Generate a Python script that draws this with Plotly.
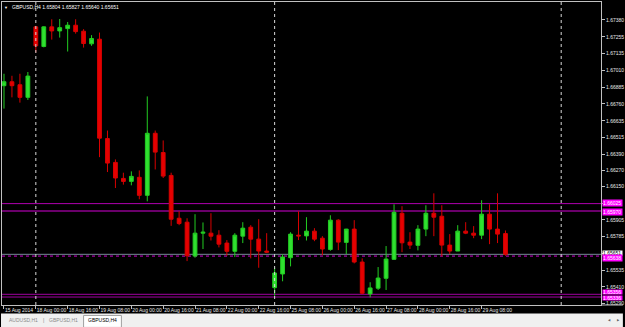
import plotly.graph_objects as go

# ---------------- data ----------------
symbol = "GBPUSD"
timeframe = "H4"

opens = [1.66895, 1.66924, 1.66902, 1.66809, 1.67329, 1.67184, 1.67329, 1.67299, 1.67316, 1.67341,
         1.67297, 1.67204, 1.67238, 1.66505, 1.66329, 1.66211, 1.66189, 1.66219, 1.66086, 1.66544,
         1.66402, 1.66233, 1.65917, 1.65888, 1.65638, 1.65807, 1.65807, 1.65792, 1.65734, 1.65673,
         1.65785, 1.65851, 1.65763, 1.65675, 1.65405, 1.65506, 1.65626, 1.65792, 1.65787, 1.65822,
         1.65770, 1.65687, 1.65903, 1.65739, 1.65837, 1.65594, 1.65359, 1.65401, 1.65474, 1.65614,
         1.65954, 1.65741, 1.65717, 1.65837, 1.65954, 1.65932, 1.65719, 1.65675, 1.65822, 1.65807,
         1.65792, 1.65947, 1.65837, 1.65804]
highs = [1.66983, 1.66968, 1.66983, 1.66996, 1.67336, 1.67333, 1.67385, 1.67387, 1.67365, 1.67385,
         1.67312, 1.67268, 1.67287, 1.66564, 1.66351, 1.66253, 1.66263, 1.66270, 1.66816, 1.66564,
         1.66491, 1.66253, 1.65969, 1.65917, 1.65947, 1.65886, 1.65954, 1.65829, 1.65756, 1.65807,
         1.65888, 1.65866, 1.65910, 1.65807, 1.65552, 1.65651, 1.65814, 1.65969, 1.65925, 1.65844,
         1.65785, 1.65939, 1.65910, 1.65839, 1.65903, 1.65621, 1.65445, 1.65557, 1.65712, 1.66020,
         1.66006, 1.65814, 1.65866, 1.66013, 1.66101, 1.66013, 1.65800, 1.65866, 1.65888, 1.65859,
         1.66050, 1.66020, 1.66101, 1.65827]
lows = [1.66726, 1.66809, 1.66770, 1.66790, 1.67140, 1.67178, 1.67235, 1.67250, 1.67147, 1.67279,
        1.67176, 1.67189, 1.66368, 1.66258, 1.66140, 1.66165, 1.66160, 1.66057, 1.66042, 1.66277,
        1.66214, 1.65861, 1.65866, 1.65601, 1.65626, 1.65690, 1.65753, 1.65702, 1.65640, 1.65631,
        1.65734, 1.65621, 1.65552, 1.65660, 1.65346, 1.65452, 1.65562, 1.65756, 1.65753, 1.65748,
        1.65645, 1.65677, 1.65682, 1.65653, 1.65584, 1.65357, 1.65334, 1.65388, 1.65388, 1.65609,
        1.65667, 1.65690, 1.65680, 1.65785, 1.65785, 1.65636, 1.65653, 1.65675, 1.65800, 1.65770,
        1.65763, 1.65726, 1.65734, 1.65640]
closes = [1.66924, 1.66895, 1.66809, 1.66966, 1.67189, 1.67329, 1.67299, 1.67323, 1.67341, 1.67294,
          1.67206, 1.67243, 1.66508, 1.66324, 1.66214, 1.66189, 1.66226, 1.66086, 1.66544, 1.66405,
          1.66228, 1.65910, 1.65878, 1.65640, 1.65807, 1.65814, 1.65785, 1.65726, 1.65673, 1.65792,
          1.65844, 1.65763, 1.65675, 1.65667, 1.65513, 1.65631, 1.65800, 1.65787, 1.65822, 1.65763,
          1.65690, 1.65903, 1.65741, 1.65837, 1.65594, 1.65364, 1.65403, 1.65476, 1.65616, 1.65961,
          1.65736, 1.65719, 1.65837, 1.65954, 1.65925, 1.65719, 1.65675, 1.65822, 1.65807, 1.65792,
          1.65947, 1.65837, 1.65800, 1.65651]

x_tick_labels = ["15 Aug 2014", "18 Aug 00:00", "18 Aug 16:00", "19 Aug 08:00", "20 Aug 00:00",
                 "20 Aug 16:00", "21 Aug 08:00", "22 Aug 00:00", "22 Aug 16:00", "25 Aug 08:00",
                 "26 Aug 00:00", "26 Aug 16:00", "27 Aug 08:00", "28 Aug 00:00", "28 Aug 16:00",
                 "29 Aug 08:00"]
bars_per_label = 4

y_tick_values = [1.67380, 1.67255, 1.67135, 1.67010, 1.66885, 1.66760, 1.66635, 1.66515, 1.66390,
                 1.66270, 1.66150, 1.66025, 1.65905, 1.65785, 1.65660, 1.65535, 1.65410, 1.65290]

solid_levels = [1.66025, 1.65970, 1.65356, 1.65336]
dotted_level = 1.65638
separator_bars = [4, 34, 70]
tab_names = ["AUDUSD,H1", "GBPUSD,H1", "GBPUSD,H4"]

# ---------------- geometry helpers ----------------
W, H = 625, 327
ML, MR, MT, MB = 1, 22, 1, 22
PW, PH = W - ML - MR, H - MT - MB


def pxx(X):
    return (X - ML) / PW


def pxy(Y):
    return (H - MB - Y) / PH


FONT = "Liberation Sans, Arial, sans-serif"
bars = list(range(len(opens)))
bid = closes[-1]
box_levels = solid_levels + [dotted_level, bid]

# tick labels hidden behind the coloured price boxes (as in the terminal)
y_tick_text = []
for v in y_tick_values:
    covered = any(abs(v - b) < 0.00035 for b in box_levels)
    y_tick_text.append("" if covered else f"{v:.5f}")

fig = go.Figure()
fig.add_trace(go.Candlestick(
    x=bars, open=opens, high=highs, low=lows, close=closes,
    increasing=dict(line=dict(color="#22cc22", width=1), fillcolor="#30e030"),
    decreasing=dict(line=dict(color="#d80000", width=1), fillcolor="#e60000"),
    whiskerwidth=0, hoverinfo="skip", showlegend=False,
))

shapes = []
level_colors = ["#b000b0", "#6a006a", "#a000a0", "#a000a0"]
level_widths = [1, 2, 1, 1]
for lv, c, w in zip(solid_levels, level_colors, level_widths):
    shapes.append(dict(type="line", xref="paper", x0=0, x1=1, yref="y", y0=lv, y1=lv,
                       line=dict(color=c, width=w), layer="below"))
shapes.append(dict(type="line", xref="paper", x0=0, x1=1, yref="y", y0=bid, y1=bid,
                   line=dict(color="#778899", width=1), layer="below"))
shapes.append(dict(type="line", xref="paper", x0=0, x1=1, yref="y", y0=dotted_level, y1=dotted_level,
                   line=dict(color="#d000d0", width=1, dash="dot"), layer="below"))
for sb in separator_bars:
    shapes.append(dict(type="line", xref="x", x0=sb, x1=sb, yref="paper", y0=0, y1=1,
                       line=dict(color="#d8d8d8", width=1, dash="dot"), layer="above"))
# bottom frame line continuing under price column
shapes.append(dict(type="line", xref="paper", x0=1, x1=pxx(W), yref="paper", y0=0, y1=0,
                   line=dict(color="#c0c0c0", width=1)))
# tab bar
shapes.append(dict(type="rect", xref="paper", x0=pxx(0), x1=pxx(W), yref="paper",
                   y0=pxy(327), y1=pxy(313.5), fillcolor="#f0f0f0", line=dict(width=0)))
shapes.append(dict(type="rect", xref="paper", x0=pxx(83), x1=pxx(121), yref="paper",
                   y0=pxy(327.5), y1=pxy(315.5), fillcolor="#ffffff",
                   line=dict(color="#a0a0a0", width=1)))

ann = []
# title
ann.append(dict(text="▼", xref="paper", yref="paper", x=pxx(5), y=pxy(6.5), showarrow=False,
                font=dict(family=FONT, size=4, color="#ffffff"), xanchor="center", yanchor="middle"))
title = f"{symbol},{timeframe} {opens[-1]:.5f} {highs[-1]:.5f} {lows[-1]:.5f} {closes[-1]:.5f}"
ann.append(dict(text=title, xref="paper", yref="paper", x=pxx(9.5), y=pxy(6.5), showarrow=False,
                font=dict(family=FONT, size=5, color="#ffffff"), xanchor="left", yanchor="middle"))


def price_box(p, bg, fg, shift=0, h=6):
    return dict(text=f"{p:.5f}", xref="paper", yref="y", x=1, y=p, xshift=1, yshift=shift,
                showarrow=False, xanchor="left", yanchor="middle", bgcolor=bg, borderpad=0,
                width=19, height=h, align="left", font=dict(family=FONT, size=5, color=fg))


ann.append(price_box(bid, "#ffffff", "#000000", shift=1.5, h=4))
ann.append(price_box(dotted_level, "#ff00ff", "#ffffff", shift=-1.5, h=6))
ann.append(price_box(solid_levels[0], "#ff00ff", "#ffffff", shift=0.5))
ann.append(price_box(solid_levels[1], "#ff00ff", "#ffffff", shift=-0.5))
ann.append(price_box(solid_levels[2], "#ff00ff", "#ffffff", shift=2.6, h=4))
ann.append(price_box(solid_levels[3], "#ff00ff", "#ffffff", shift=-0.6, h=4))

# tabs
tab_x = [22.5, 62.5, 102]
for i, (name, tx) in enumerate(zip(tab_names, tab_x)):
    active = i == len(tab_names) - 1
    ann.append(dict(text=name, xref="paper", yref="paper", x=pxx(tx), y=pxy(320.5), showarrow=False,
                    font=dict(family=FONT, size=5, color="#000000" if active else "#8a8a8a"),
                    xanchor="center", yanchor="middle"))
ann.append(dict(text="|", xref="paper", yref="paper", x=pxx(42.7), y=pxy(320.5), showarrow=False,
                font=dict(family=FONT, size=5, color="#8a8a8a"), xanchor="center", yanchor="middle"))
for tx, sym in [(612, "◀"), (621, "▶")]:
    ann.append(dict(text=sym, xref="paper", yref="paper", x=pxx(tx), y=pxy(320), showarrow=False,
                    font=dict(family=FONT, size=3, color="#606060"), xanchor="center", yanchor="middle"))

fig.update_layout(
    width=W, height=H, autosize=False,
    margin=dict(l=ML, r=MR, t=MT, b=MB, pad=0),
    paper_bgcolor="#000000", plot_bgcolor="#000000",
    boxgap=0.32,
    showlegend=False,
    shapes=shapes,
    annotations=ann,
    xaxis=dict(
        range=[-0.25, 75.0], rangeslider=dict(visible=False), showgrid=False, zeroline=False,
        tickmode="array", tickvals=[i * bars_per_label for i in range(len(x_tick_labels))],
        ticktext=x_tick_labels, ticks="outside", ticklen=3, tickcolor="#c0c0c0",
        tickangle=0, ticklabelposition="outside right", ticklabelstandoff=0,
        tickfont=dict(family=FONT, size=5, color="#e8e8e8"),
        showline=True, linecolor="#c0c0c0", linewidth=1, mirror=True,
    ),
    yaxis=dict(
        range=[1.652771, 1.675124], side="right", showgrid=False, zeroline=False,
        tickmode="array", tickvals=y_tick_values, ticktext=y_tick_text,
        ticks="outside", ticklen=3, tickcolor="#c0c0c0",
        tickfont=dict(family=FONT, size=5, color="#e8e8e8"),
        showline=True, linecolor="#c0c0c0", linewidth=1, mirror=True,
    ),
)

fig.write_html("out.html", config={"displayModeBar": False})
